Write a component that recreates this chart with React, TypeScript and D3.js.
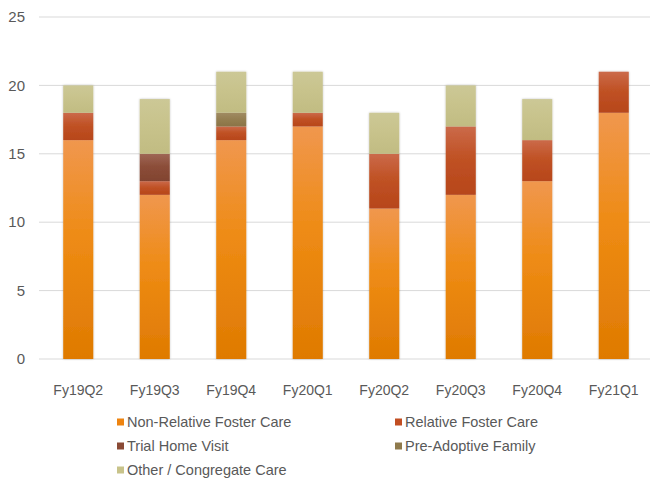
import React from "react";
import * as d3 from "d3";

const categories = ["Fy19Q2", "Fy19Q3", "Fy19Q4", "Fy20Q1", "Fy20Q2", "Fy20Q3", "Fy20Q4", "Fy21Q1"];
const seriesNames = [
  "Non-Relative Foster Care",
  "Relative Foster Care",
  "Trial Home Visit",
  "Pre-Adoptive Family",
  "Other / Congregate Care",
];
const nonRelative = [16, 12, 16, 17, 11, 12, 13, 18];
const relative = [2, 1, 1, 1, 4, 5, 3, 3];
const trialHome = [0, 2, 0, 0, 0, 0, 0, 0];
const preAdoptive = [0, 0, 1, 0, 0, 0, 0, 0];
const otherCongregate = [2, 4, 3, 3, 3, 3, 3, 0];
const yTicks = [0, 5, 10, 15, 20, 25];

const seriesValues = [nonRelative, relative, trialHome, preAdoptive, otherCongregate];
const colorsTop = ["#F0974E", "#CB6A4A", "#9E6755", "#A08B62", "#CCC896"];
const colorsMid = ["#EE8B14", "#C05225", "#8C4E3A", "#957F52", "#C8C38C"];
const colorsBottom = ["#DF7A02", "#B7461A", "#81432F", "#8A7446", "#C1BC82"];
const legendColors = ["#EE8410", "#C24E22", "#8A4A35", "#8F7A4C", "#C8C38A"];

const W = 650;
const H = 483;
const FONT = "'Liberation Sans', Arial, sans-serif";

export default function App() {
  const rows = categories.map((c, i) => {
    const r: Record<string, number | string> = { cat: c };
    seriesNames.forEach((s, k) => (r[s] = seriesValues[k][i]));
    return r;
  });
  const stacked = d3.stack<any>().keys(seriesNames)(rows);

  const x = d3.scaleBand().domain(categories).range([40, 652]).paddingInner(0.607).paddingOuter(0.3035);
  const y = d3.scaleLinear().domain([0, 25]).range([359, 17]);

  const legendPos = [
    [117, 422],
    [395, 422],
    [117, 446],
    [395, 446],
    [117, 470],
  ];

  return (
    <svg width={W} height={H} style={{ position: "absolute", left: 0, top: 0, background: "#fff" }}>
      <defs>
        {seriesNames.map((s, k) => (
          <linearGradient key={s} id={`g${k}`} x1="0" y1="0" x2="0" y2="1">
            <stop offset="0%" stopColor={colorsTop[k]} />
            <stop offset="45%" stopColor={colorsMid[k]} />
            <stop offset="100%" stopColor={colorsBottom[k]} />
          </linearGradient>
        ))}
        <filter id="shadow" x="-20%" y="-5%" width="140%" height="110%">
          <feGaussianBlur in="SourceAlpha" stdDeviation="1.2" />
          <feOffset dx="0" dy="0" result="b" />
          <feComponentTransfer>
            <feFuncA type="linear" slope="0.25" />
          </feComponentTransfer>
          <feMerge>
            <feMergeNode />
            <feMergeNode in="SourceGraphic" />
          </feMerge>
        </filter>
      </defs>
      <rect width={W} height={H} fill="#fff" />
      {yTicks.map((t) => (
        <g key={t}>
          <line x1={39} x2={650} y1={y(t)} y2={y(t)} stroke="#D9D9D9" strokeWidth={1} />
          <text x={25} y={y(t)} dy="0.35em" textAnchor="end" fontFamily={FONT} fontSize={15} fill="#595959">
            {t}
          </text>
        </g>
      ))}
      <g filter="url(#shadow)">
        {stacked.map((layer, k) =>
          layer.map((d, i) =>
            d[1] - d[0] > 0 ? (
              <rect
                key={`${k}-${i}`}
                x={x(categories[i])}
                width={x.bandwidth()}
                y={y(d[1])}
                height={y(d[0]) - y(d[1])}
                fill={`url(#g${k})`}
              />
            ) : null
          )
        )}
      </g>
      {categories.map((c) => (
        <text
          key={c}
          x={(x(c) as number) + x.bandwidth() / 2}
          y={390}
          dy="0.35em"
          textAnchor="middle"
          fontFamily={FONT}
          fontSize={14}
          fill="#595959"
        >
          {c}
        </text>
      ))}
      {seriesNames.map((s, k) => (
        <g key={s} transform={`translate(${legendPos[k][0]},${legendPos[k][1]})`}>
          <rect x={0} y={-3.5} width={7} height={7} fill={legendColors[k]} />
          <text x={10} y={0} dy="0.35em" fontFamily={FONT} fontSize={14.5} fill="#595959">
            {s}
          </text>
        </g>
      ))}
    </svg>
  );
}
